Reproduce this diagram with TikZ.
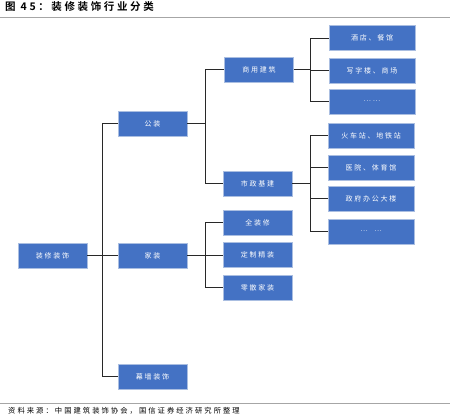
\documentclass[tikz,border=0pt]{standalone}
\usepackage{fontspec}
\newfontfamily\cjk[LetterSpace=25]{Noto Sans CJK SC}
\newfontfamily\cjkt[LetterSpace=25]{Noto Sans CJK SC Bold}
\newfontfamily\cjks[LetterSpace=28]{Noto Sans CJK SC}
\definecolor{boxblue}{RGB}{68,114,196}
\definecolor{boxedge}{RGB}{170,190,225}
\definecolor{conn}{RGB}{40,40,40}
\tikzset{
  cbox/.style={fill=boxblue, draw=boxedge, line width=0.6pt, text=white,
    minimum width=69pt, minimum height=25pt, inner sep=0pt,
    font=\cjk\fontsize{7pt}{8pt}\selectfont},
  wbox/.style={cbox, minimum width=86pt},
  link/.style={draw=conn, line width=0.8pt}
}
\begin{document}
\begin{tikzpicture}[x=1pt,y=-1pt]
\useasboundingbox (0,0) rectangle (450,417);
% title and rules
\node[anchor=west, inner sep=0pt, font=\cjkt\fontsize{10.5pt}{12pt}\selectfont] (title) at (5,7) {图 45：装修装饰行业分类};
\draw[gray!70, line width=0.8pt] (0,17) -- (450,17);
\draw[gray!70, line width=0.8pt] (0,403) -- (450,403);
\node[anchor=west, inner sep=0pt, font=\cjks\fontsize{7.3pt}{8pt}\selectfont] (src) at (8,411) {资料来源：中国建筑装饰协会，国信证券经济研究所整理};
% nodes
\node[cbox] (root) at (52.5,255.5) {装修装饰};
\node[cbox] (gz) at (152.5,123.5) {公装};
\node[cbox] (jz) at (152.5,255.5) {家装};
\node[cbox] (mq) at (152.5,376.5) {幕墙装饰};
\node[cbox] (sy) at (259,69.5) {商用建筑};
\node[cbox] (sz) at (257.5,183.5) {市政基建};
\node[cbox] (qz) at (257.5,222.5) {全装修};
\node[cbox] (dz) at (257.5,255) {定制精装};
\node[cbox] (ls) at (257.5,287.5) {零散家装};
\node[wbox] (r1) at (372,38) {酒店、餐馆};
\node[wbox] (r2) at (372,70.5) {写字楼、商场};
\node[wbox] (r3) at (372,101.5) {……};
\node[wbox] (s1) at (371,135.5) {火车站、地铁站};
\node[wbox] (s2) at (371,167.5) {医院、体育馆};
\node[wbox] (s3) at (371,198.5) {政府办公大楼};
\node[wbox] (s4) at (371,231.5) {…\ \ …};
% trunks
\coordinate (t0) at (102,0);
\coordinate (t1) at (205,0);
\coordinate (t2) at (310,0);
% connectors
\foreach \c in {gz,jz,mq}{\draw[link] (root.east) -- (root.east -| t0) |- (\c.west);}
\foreach \c in {sy,sz}{\draw[link] (gz.east) -- (gz.east -| t1) |- (\c.west);}
\foreach \c in {qz,dz,ls}{\draw[link] (jz.east) -- (jz.east -| t1) |- (\c.west);}
\foreach \c in {r1,r2,r3}{\draw[link] (sy.east) -- (sy.east -| t2) |- (\c.west);}
\foreach \c in {s1,s2,s3,s4}{\draw[link] (sz.east) -- (sz.east -| t2) |- (\c.west);}
\end{tikzpicture}
\end{document}
